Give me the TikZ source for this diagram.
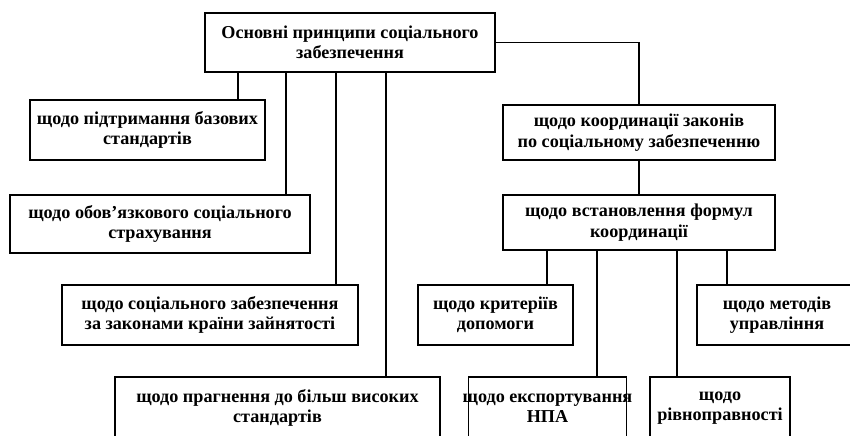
\documentclass[tikz,border=0pt]{standalone}
\usepackage{fontspec}
\setmainfont{Liberation Serif}
\usetikzlibrary{positioning,calc}

\begin{document}
\begin{tikzpicture}[x=0.03cm, y=-0.03cm,
  blok/.style={rectangle, draw=black, line width=1.4pt, fill=white,
    align=center, inner sep=1pt, font=\fontsize{15.5}{17.5}\selectfont\bfseries},
  zv/.style={black, line width=1pt}
]
  \clip (0,0) rectangle (850,435);
  \useasboundingbox (0,0) rectangle (850,435);

  % golovnyi blok
  \node[blok, minimum width=8.7cm, minimum height=1.77cm] (top) at (350,42.5)
    {Основні принципи соціального\\забезпечення};

  % liva gilka
  \node[blok, minimum width=7.05cm, minimum height=1.8cm] (supp) at (147.5,130)
    {щодо підтримання базових\\стандартів};
  \node[blok, minimum width=9cm, minimum height=1.74cm] (insur) at (160,224)
    {щодо обов'язкового соціального\\страхування};
  \node[blok, minimum width=8.88cm, minimum height=1.8cm] (fund) at (210,315)
    {щодо соціального забезпечення\\за законами країни зайнятості};
  \node[blok, minimum width=9.75cm, minimum height=1.86cm] (higher) at (277.5,408)
    {щодо прагнення до більш високих\\стандартів};

  % prava gilka
  \node[blok, minimum width=8.16cm, minimum height=1.65cm] (coord) at (639,132.5)
    {щодо координації законів\\по соціальному забезпеченню};
  \node[blok, minimum width=8.16cm, minimum height=1.65cm] (formula) at (639,222.5)
    {щодо встановлення формул\\координації};
  \node[blok, minimum width=4.65cm, minimum height=1.8cm] (crit) at (495.5,315)
    {щодо критеріїв\\допомоги};
  \node[blok, minimum width=4.8cm, minimum height=1.8cm] (manage) at (777,315)
    {щодо методів\\управління};
  \node[blok, minimum width=4.65cm, minimum height=1.86cm, inner xsep=-5pt] (law) at (547.5,408)
    {щодо експортування\\НПА};
  \node[blok, minimum width=4.2cm, minimum height=1.86cm] (equal) at (720,408)
    {щодо\\рівноправності};

  % zvjazky
  \draw[zv] (top.south -| 238,0) -- (supp.north -| 238,0);
  \draw[zv] (top.south -| 286,0) -- (insur.north -| 286,0);
  \draw[zv] (top.south -| 336,0) -- (fund.north -| 336,0);
  \draw[zv] (top.south -| 386,0) -- (higher.north -| 386,0);
  \draw[zv] (top.east) -| (coord.north);
  \draw[zv] (coord.south) -- (formula.north);
  \draw[zv] (formula.south -| 547,0) -- (crit.north -| 547,0);
  \draw[zv] (formula.south -| 597,0) -- (law.north -| 597,0);
  \draw[zv] (formula.south -| 677,0) -- (equal.north -| 677,0);
  \draw[zv] (formula.south -| 727,0) -- (manage.north -| 727,0);
\end{tikzpicture}
\end{document}
